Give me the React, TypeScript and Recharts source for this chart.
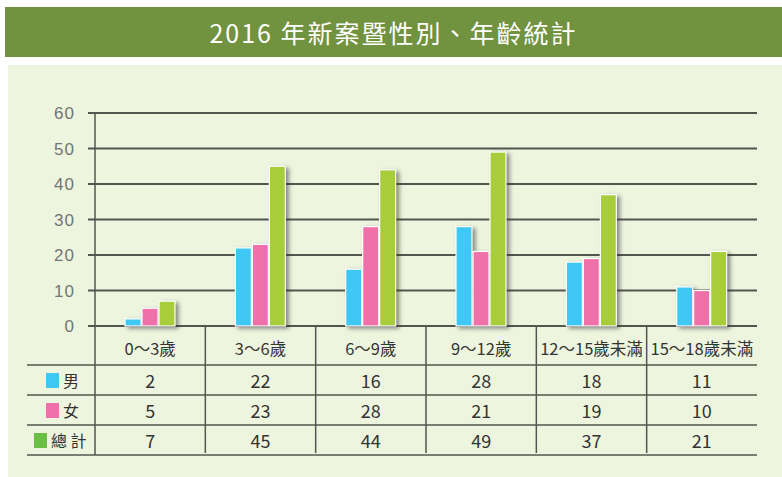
import React from 'react';
import { BarChart, Bar, XAxis, YAxis, CartesianGrid } from 'recharts';

// 2016 年新案暨性別、年齡統計
const categories = ['0～3歲', '3～6歲', '6～9歲', '9～12歲', '12～15歲未滿', '15～18歲未滿'];
const male = [2, 22, 16, 28, 18, 11];
const female = [5, 23, 28, 21, 19, 10];
const total = [7, 45, 44, 49, 37, 21];
const yTicks = [0, 10, 20, 30, 40, 50, 60];

const rowLabels = ['男', '女', '總 計'];
const rowValues = [male, female, total];
const legendColors = ['#3ec8f4', '#f070ac', '#6cbf45'];

const chartData = categories.map((name, i) => ({
  name,
  male: male[i],
  female: female[i],
  total: total[i],
}));

const W = 782;
const H = 477;
const PLOT_LEFT = 95;
const PLOT_RIGHT = 757;
const PLOT_TOP = 113;
const PLOT_BOTTOM = 326;
const COL_W = (PLOT_RIGHT - PLOT_LEFT) / categories.length;
const ROW_LINES = [365, 395, 425, 455];
const LINE = '#55554f';
const FONT = '"Noto Sans CJK TC", "Noto Sans", sans-serif';

// bar with white outline and a soft drop shadow
const ShadowBar = (props: any) => {
  const { x, y, width, height, fill } = props;
  if (!height || height <= 0) return null;
  return (
    <rect
      x={x}
      y={y}
      width={width}
      height={height}
      fill={fill}
      stroke="#ffffff"
      strokeWidth={1.2}
      style={{ filter: 'drop-shadow(3px 2px 2px rgba(50,50,50,0.55))' }}
    />
  );
};

const App: React.FC = () => {
  return (
    <div style={{ position: 'absolute', left: 0, top: 0, width: W, height: H, background: '#ffffff', fontFamily: FONT }}>
      <div
        style={{
          position: 'absolute',
          left: 5,
          top: 7,
          width: W - 5,
          height: 50,
          background: '#71923f',
          color: '#ffffff',
          fontSize: 25,
          letterSpacing: 2,
          lineHeight: '50px',
          textAlign: 'center',
        }}
      >
        2016 年新案暨性別、年齡統計
      </div>
      <div style={{ position: 'absolute', left: 8, top: 65, width: W - 8, height: H - 65, background: '#eef5df' }} />

      <div style={{ position: 'absolute', left: 0, top: 0 }}>
        <BarChart
          width={W}
          height={H}
          data={chartData}
          margin={{ top: PLOT_TOP, right: W - PLOT_RIGHT, bottom: H - PLOT_BOTTOM, left: 0 }}
          barSize={16}
          barGap={1}
        >
          <CartesianGrid vertical={false} stroke={LINE} strokeWidth={2} />
          <XAxis dataKey="name" hide />
          <YAxis
            width={PLOT_LEFT}
            domain={[0, 60]}
            ticks={yTicks}
            interval={0}
            axisLine={false}
            tickLine={{ stroke: LINE, strokeWidth: 2 }}
            tickSize={7}
            tickMargin={13}
            tick={{ fill: '#747474', fontSize: 17, letterSpacing: 1, fontFamily: '"Liberation Sans", Arial, sans-serif' }}
          />
          <Bar dataKey="male" fill="#40c8f4" shape={<ShadowBar />} isAnimationActive={false} />
          <Bar dataKey="female" fill="#f071aa" shape={<ShadowBar />} isAnimationActive={false} />
          <Bar dataKey="total" fill="#a7cd3a" shape={<ShadowBar />} isAnimationActive={false} />
        </BarChart>
      </div>

      {/* data table under the plot */}
      <svg width={W} height={H} style={{ position: 'absolute', left: 0, top: 0, pointerEvents: 'none' }}>
        <line x1={PLOT_LEFT} x2={PLOT_LEFT} y1={PLOT_TOP} y2={455} stroke={LINE} strokeWidth={1.5} />
        {categories.slice(1).map((_, i) => (
          <line
            key={`v-${i}`}
            x1={PLOT_LEFT + COL_W * (i + 1)}
            x2={PLOT_LEFT + COL_W * (i + 1)}
            y1={PLOT_BOTTOM}
            y2={453}
            stroke={LINE}
            strokeWidth={1.5}
          />
        ))}
        {ROW_LINES.map((y) => (
          <line key={`h-${y}`} x1={27} x2={PLOT_RIGHT} y1={y} y2={y} stroke={LINE} strokeWidth={1.5} />
        ))}
        {categories.map((c, i) => (
          <text
            key={`c-${i}`}
            x={PLOT_LEFT + COL_W * (i + 0.5)}
            y={348}
            textAnchor="middle"
            dominantBaseline="central"
            fontSize={16.5}
            fill="#333333"
            fontFamily={FONT}
          >
            {c}
          </text>
        ))}
        {rowValues.map((vals, r) =>
          vals.map((v, i) => (
            <text
              key={`r-${r}-${i}`}
              x={PLOT_LEFT + COL_W * (i + 0.5)}
              y={ROW_LINES[r] + 15}
              textAnchor="middle"
              dominantBaseline="central"
              fontSize={18}
              fill="#333333"
              fontFamily={FONT}
            >
              {v}
            </text>
          ))
        )}
      </svg>

      {rowLabels.map((label, r) => (
        <div
          key={`l-${r}`}
          style={{
            position: 'absolute',
            left: r === 2 ? 34 : 46,
            top: ROW_LINES[r],
            height: 30,
            display: 'flex',
            alignItems: 'center',
            gap: 4,
            fontSize: 16,
            color: '#333333',
            whiteSpace: 'pre',
          }}
        >
          <span style={{ display: 'inline-block', width: 13, height: 15, background: legendColors[r] }} />
          <span>{label}</span>
        </div>
      ))}
    </div>
  );
};

export default App;
